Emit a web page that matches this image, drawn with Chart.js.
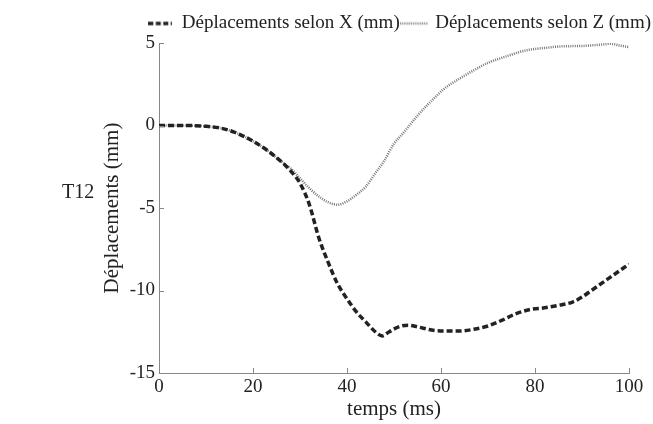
<!DOCTYPE html>
<html>
<head>
<meta charset="utf-8">
<script src="https://cdn.jsdelivr.net/npm/chart.js@4"></script>
<style>
  body { margin: 0; background: #fff; }
  #wrap { position: relative; width: 653px; height: 424px; }
  #label { position: absolute; left: 62px; top: 180px; font: 20px 'Liberation Serif', 'Times New Roman', serif; color: #222; }
</style>
</head>
<body>
<div id="wrap">
  <canvas id="myChart" width="653" height="424"></canvas>
  <div id="label">T12</div>
</div>
<script>
// temps (ms) et déplacements (mm)
const timeX = [0, 5, 10, 13, 16, 20, 23, 25, 27, 28, 30, 32, 34, 36, 38, 40, 42, 44, 46, 47.5, 49, 51, 53, 55, 58, 61, 64, 67, 70, 73, 76, 79, 82, 85, 88, 90, 92, 95, 98, 100];
const dispX = [0, 0, -0.05, -0.15, -0.4, -0.95, -1.5, -1.95, -2.45, -2.75, -3.5, -4.8, -6.8, -8.3, -9.6, -10.5, -11.3, -11.9, -12.5, -12.75, -12.5, -12.2, -12.1, -12.2, -12.4, -12.45, -12.45, -12.35, -12.15, -11.8, -11.4, -11.15, -11.05, -10.9, -10.7, -10.4, -10.0, -9.4, -8.8, -8.4];
const timeZ = [0, 5, 10, 13, 16, 20, 23, 25, 27, 28, 30, 32, 34, 36, 38, 40, 42, 44, 46, 48, 50, 52, 55, 58, 61, 64, 67, 70, 74, 78, 82, 86, 90, 94, 96, 98, 100];
const dispZ = [0, 0, -0.05, -0.15, -0.4, -0.95, -1.5, -1.95, -2.4, -2.6, -3.2, -3.8, -4.3, -4.65, -4.8, -4.6, -4.2, -3.7, -2.9, -2.1, -1.1, -0.45, 0.6, 1.5, 2.3, 2.85, 3.35, 3.8, 4.2, 4.55, 4.7, 4.8, 4.82, 4.9, 4.95, 4.85, 4.75];
const labelX = "Déplacements selon X (mm)";
const labelZ = "Déplacements selon Z (mm)";

const serif = "'Liberation Serif', 'Times New Roman', serif";

// symbole de légende : un bout de trait pointillé
function legendLine(w, color, width, dash) {
  const c = document.createElement("canvas");
  c.width = w;
  c.height = 6;
  const g = c.getContext("2d");
  g.strokeStyle = color;
  g.lineWidth = width;
  g.setLineDash(dash);
  g.beginPath();
  g.moveTo(0, 3);
  g.lineTo(w, 3);
  g.stroke();
  return c;
}

// petites graduations vers l'intérieur
const innerTicks = {
  id: "innerTicks",
  afterDraw(chart) {
    const ctx = chart.ctx;
    const xs = chart.scales.x, ys = chart.scales.y;
    ctx.save();
    ctx.strokeStyle = "#888";
    ctx.lineWidth = 1;
    ctx.beginPath();
    xs.ticks.forEach(function (t) {
      const px = Math.round(xs.getPixelForValue(t.value)) + 0.5;
      ctx.moveTo(px, ys.bottom);
      ctx.lineTo(px, ys.bottom - 5);
    });
    ys.ticks.forEach(function (t) {
      const py = Math.round(ys.getPixelForValue(t.value)) + 0.5;
      ctx.moveTo(xs.left, py);
      ctx.lineTo(xs.left + 5, py);
    });
    ctx.stroke();
    ctx.restore();
  }
};

const ctx = document.getElementById("myChart");
const myChart = new Chart(ctx, {
  type: "line",
  data: {
    datasets: [
      {
        label: labelX,
        data: timeX.map((t, i) => ({ x: t, y: dispX[i] })),
        borderColor: "#222",
        backgroundColor: "#222",
        borderWidth: 3.5,
        borderDash: [6, 3],
        pointRadius: 0,
        pointStyle: legendLine(24, "#222", 3.5, [5, 2.5]),
        cubicInterpolationMode: "monotone",
      },
      {
        label: labelZ,
        data: timeZ.map((t, i) => ({ x: t, y: dispZ[i] })),
        borderColor: "#777",
        backgroundColor: "#777",
        borderWidth: 2.5,
        borderDash: [1, 1.2],
        pointRadius: 0,
        pointStyle: legendLine(28, "#777", 2.5, [1, 1.2]),
        cubicInterpolationMode: "monotone",
      },
    ],
  },
  options: {
    responsive: false,
    animation: false,
    layout: { padding: { left: 98, right: 0, top: 9, bottom: 2 } },
    plugins: {
      tooltip: { enabled: false },
      legend: {
        position: "top",
        align: "end",
        labels: {
          usePointStyle: true,
          pointStyleWidth: 24,
          padding: 2,
          color: "#222",
          font: { family: serif, size: 19 },
        },
      },
    },
    scales: {
      x: {
        type: "linear",
        min: 0,
        max: 100,
        afterFit(s) { s.height = 49; s.paddingRight = 24; },
        ticks: { stepSize: 20, color: "#222", font: { family: serif, size: 19 }, padding: 3 },
        grid: { display: false, drawTicks: false },
        border: { display: true, color: "#888", width: 1 },
        title: { display: true, text: "temps (ms)", color: "#222", font: { family: serif, size: 21 }, padding: 0 },
      },
      y: {
        min: -15,
        max: 5,
        afterFit(s) { s.width = 61; s.paddingTop = 43; },
        ticks: { stepSize: 5, color: "#222", font: { family: serif, size: 19 }, padding: 4 },
        grid: { display: false, drawTicks: false },
        border: { display: true, color: "#888", width: 1 },
        title: { display: true, text: "Déplacements (mm)", color: "#222", font: { family: serif, size: 21 }, padding: 2 },
      },
    },
  },
  plugins: [innerTicks],
});
</script>
</body>
</html>
